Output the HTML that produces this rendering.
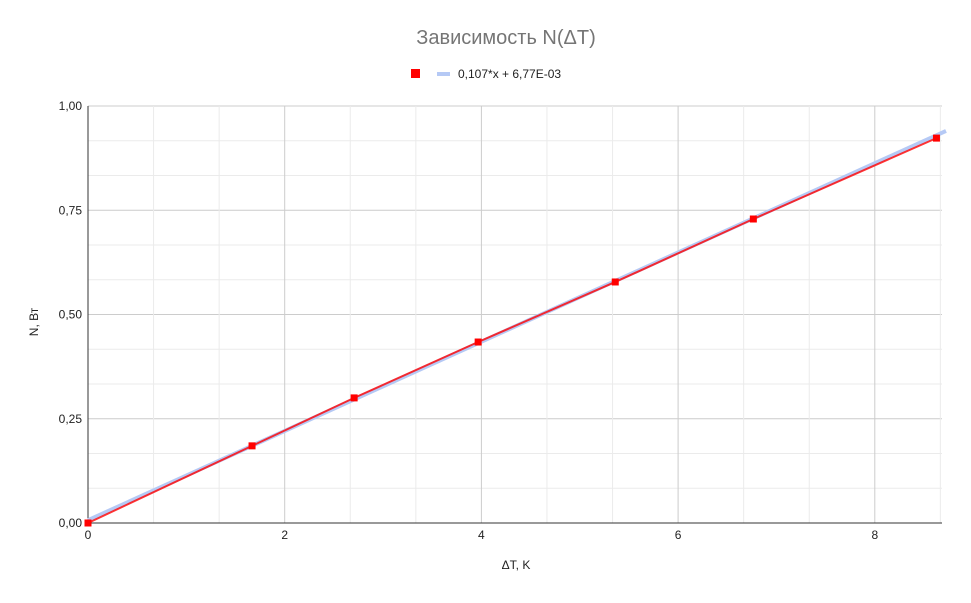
<!DOCTYPE html>
<html><head><meta charset="utf-8"><style>
body{margin:0;background:#fff;font-family:"Liberation Sans",Arial,sans-serif}
svg text{font-family:"Liberation Sans",Arial,sans-serif}
</style></head><body>
<svg id="chart" width="971" height="598">
<text x="506" y="44" text-anchor="middle" font-size="20" fill="#757575">Зависимость N(ΔT)</text>
<g>
<rect x="411" y="69" width="9" height="9" fill="#f00"/>
<rect x="437" y="72" width="13" height="4" fill="#b5c9f5"/>
<text x="458" y="78" font-size="12" fill="#222">0,107*x + 6,77E-03</text>
</g>
<g id="grid"></g><g id="axes"></g><g id="marks"></g>
<text x="516" y="569" text-anchor="middle" font-size="12" fill="#222">ΔT, K</text>
<text x="38" y="322" text-anchor="middle" font-size="12" fill="#222" transform="rotate(-90 38 322)">N, Вт</text>
</svg>
<script>
const xData=[0,1.668,2.706,3.967,5.361,6.765,8.627];
const yData=[0,0.185,0.300,0.434,0.578,0.729,0.923];
const trendSlope=0.107, trendIntercept=0.00677;
const xTicks=[0,2,4,6,8];
const yTicks=[0,0.25,0.5,0.75,1.0];
const yTickLabels=["0,00","0,25","0,50","0,75","1,00"];
const L=88,R=942,T=106,B=523,XMAX=(R-L)/98.35;
const sx=v=>L+v*98.35, sy=v=>B-v*(B-T);
const ns="http://www.w3.org/2000/svg";
function mk(p,t,a){const e=document.createElementNS(ns,t);for(const k in a)e.setAttribute(k,a[k]);p.appendChild(e);return e;}
const grid=document.getElementById('grid'),axes=document.getElementById('axes'),marks=document.getElementById('marks');
for(let i=0;i<=12;i++){const v=i/12,y=sy(v);const l=mk(grid,'line',{x1:L,x2:R,y1:y,y2:y,stroke:i%3==0?'#ccc':'#ebebeb'});

}
for(let i=1;i*2/3<=XMAX;i++){const x=sx(i*2/3);const l=mk(grid,'line',{x1:x,x2:x,y1:T,y2:B,stroke:i%3==0?'#ccc':'#ebebeb'});

}
mk(axes,'line',{x1:L,x2:L,y1:T,y2:B,stroke:'#333'});
mk(axes,'line',{x1:L,x2:R,y1:B,y2:B,stroke:'#333'});
xTicks.forEach(v=>{const t=mk(axes,'text',{x:sx(v),y:539,'text-anchor':'middle','font-size':12,fill:'#222'});t.textContent=v;

});
yTicks.forEach((v,i)=>{const t=mk(axes,'text',{x:82,y:sy(v)+4,'text-anchor':'end','font-size':12,fill:'#222'});t.textContent=yTickLabels[i];

});
const tx2=(R+4-L)/98.35;
const tl=mk(marks,'line',{x1:sx(0),y1:sy(trendIntercept),x2:sx(tx2),y2:sy(trendSlope*tx2+trendIntercept),stroke:'#b5c9f5','stroke-width':4});


const pl=mk(marks,'polyline',{points:xData.map((x,i)=>sx(x)+','+sy(yData[i])).join(' '),fill:'none',stroke:'#f00','stroke-width':2,opacity:0.8});


xData.forEach((x,i)=>{const r=mk(marks,'rect',{x:sx(x)-3.5,y:sy(yData[i])-3.5,width:7,height:7,fill:'#f00'});

});
</script>
</body></html>
